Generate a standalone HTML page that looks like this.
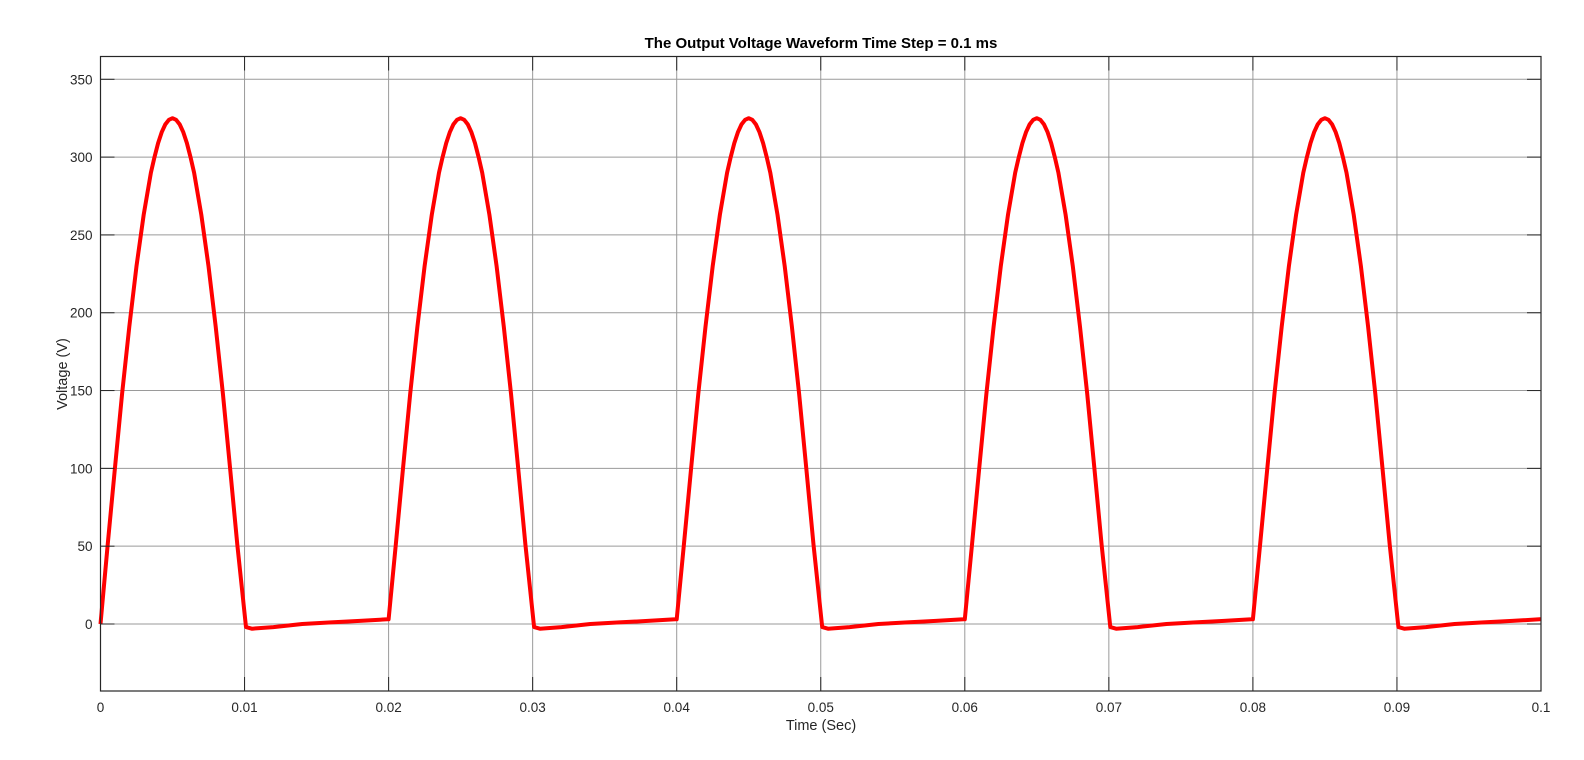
<!DOCTYPE html>
<html><head><meta charset="utf-8">
<style>
html,body{margin:0;padding:0;background:#fff;}
svg{display:block;font-family:"Liberation Sans",sans-serif;}
</style></head>
<body>
<svg id="chart" width="1584" height="760" viewBox="0 0 1584 760">
<rect width="1584" height="760" fill="#fff"/>
<text x="821" y="48" text-anchor="middle" font-size="15" font-weight="bold" fill="#000">The Output Voltage Waveform Time Step = 0.1 ms</text>
<g id="grid"></g>
<g id="series"></g>
<g id="ticks"></g>
<rect x="100.5" y="56.5" width="1440.5" height="634.5" fill="none" stroke="#262626" stroke-width="1.2"/>
<text x="821" y="730" text-anchor="middle" font-size="14.5" fill="#262626">Time (Sec)</text>
<text transform="translate(67,374) rotate(-90)" text-anchor="middle" font-size="14.5" fill="#262626">Voltage (V)</text>
</svg>
<script>
const xTicks = [0,0.01,0.02,0.03,0.04,0.05,0.06,0.07,0.08,0.09,0.1];
const xTickLabels = ["0","0.01","0.02","0.03","0.04","0.05","0.06","0.07","0.08","0.09","0.1"];
const yTicks = [0,50,100,150,200,250,300,350];
const yTickLabels = ["0","50","100","150","200","250","300","350"];
// one period of the waveform (time within period, voltage)
const periodTimes = [0,0.0005,0.001,0.0015,0.002,0.0025,0.003,0.0035,0.00375,0.004,0.00425,0.0045,0.00475,0.005,0.00525,0.0055,0.00575,0.006,0.00625,0.0065,0.007,0.0075,0.008,0.0085,0.009,0.0095,0.0101,0.0105,0.012,0.014,0.016,0.018,0.0199];
const periodVolts = [3,51,100,148,191,230,263,290,300,309,316,321,324,325,324,321,316,309,300,290,263,230,191,148,100,51,-2,-3,-2,0,1,2,3];
const periodStarts = [0,0.02,0.04,0.06,0.08];
const firstPoint = [0,0];

const L=100.5,R=1541,T=56.5,B=691;
const y0=624, ypx=(624-79.3)/350;
function xScale(v){return L+v/0.1*(R-L);}
function yScale(v){return y0 - v*ypx;}
const NS="http://www.w3.org/2000/svg";
const grid=document.getElementById('grid'), ticks=document.getElementById('ticks'), series=document.getElementById('series');
function mk(tag,attrs,parent){const e=document.createElementNS(NS,tag);for(const k in attrs)e.setAttribute(k,attrs[k]);parent.appendChild(e);return e;}
xTicks.forEach((v,i)=>{
  const x=xScale(v);
  const g=mk('line',{x1:x,x2:x,y1:T,y2:B,stroke:'#9a9a9a','stroke-width':1},grid);
  
  
  mk('line',{x1:x,x2:x,y1:B,y2:B-14,stroke:'#262626'},ticks);
  mk('line',{x1:x,x2:x,y1:T,y2:T+14,stroke:'#262626'},ticks);
  const t=mk('text',{x:x,y:B+21,'text-anchor':'middle','font-size':13.5,fill:'#262626'},ticks);
  t.textContent=xTickLabels[i];
  
  
});
yTicks.forEach((v,i)=>{
  const y=yScale(v);
  const g=mk('line',{x1:L,x2:R,y1:y,y2:y,stroke:'#9a9a9a','stroke-width':1},grid);
  
  
  mk('line',{x1:L,x2:L+14,y1:y,y2:y,stroke:'#262626'},ticks);
  mk('line',{x1:R,x2:R-14,y1:y,y2:y,stroke:'#262626'},ticks);
  const t=mk('text',{x:L-8,y:y+5,'text-anchor':'end','font-size':13.5,fill:'#262626'},ticks);
  t.textContent=yTickLabels[i];
  
  
});
let pts=[[firstPoint[0],firstPoint[1]]];
periodStarts.forEach((s,pi)=>{
  periodTimes.forEach((t,j)=>{ if(pi===0&&j===0) return; pts.push([s+t,periodVolts[j]]); });
});
pts.push([0.1,3]);
const d=pts.map((p,i)=>(i?'L':'M')+xScale(p[0]).toFixed(1)+','+yScale(p[1]).toFixed(1)).join(' ');
const path=mk('path',{d:d,fill:'none',stroke:'#ff0000','stroke-width':4,'stroke-linejoin':'round'},series);


</script>
</body></html>
